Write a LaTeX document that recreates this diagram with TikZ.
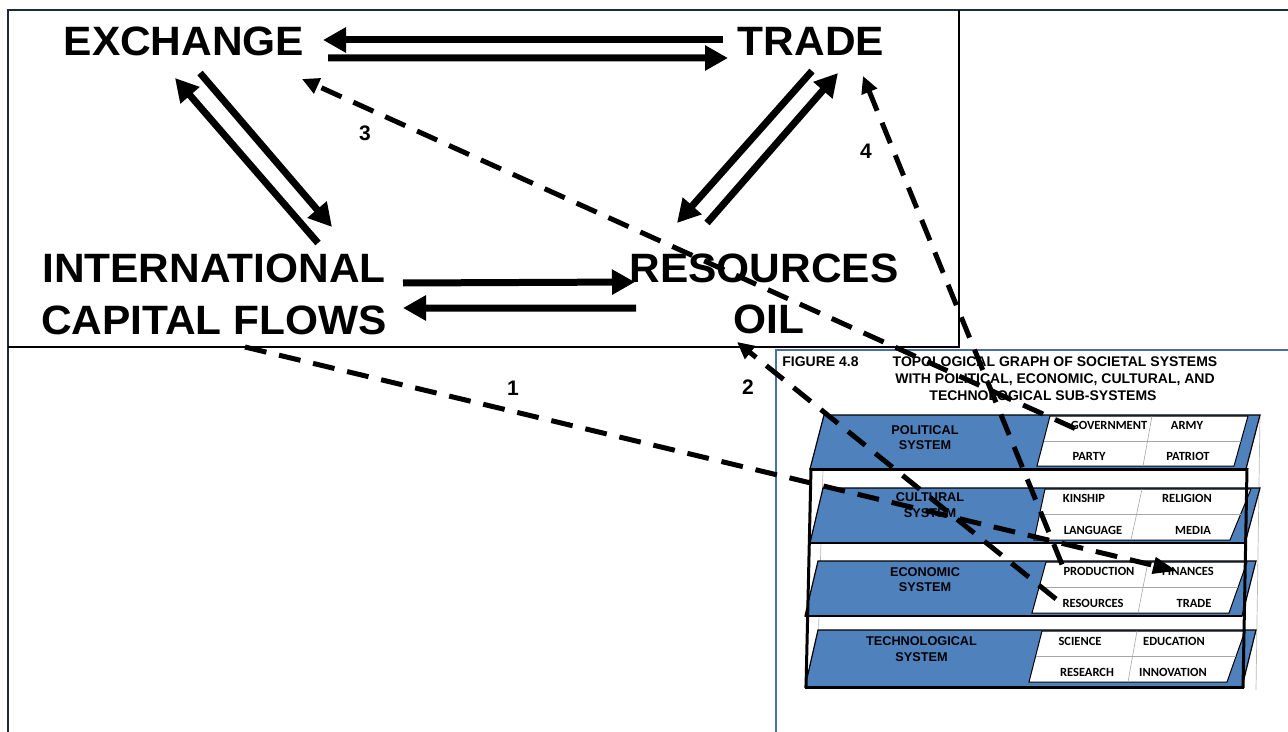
\documentclass[tikz,border=0pt]{standalone}
\usepackage{fontspec}
\setmainfont{Liberation Sans}
\newfontfamily\bigfont[FakeStretch=1.035]{Liberation Sans}
\newfontfamily\calibfont{Carlito}
\usetikzlibrary{arrows.meta,calc}
\definecolor{layerblue}{HTML}{4F81BD}
\definecolor{framedark}{HTML}{1F2B36}
\definecolor{figblue}{HTML}{4A6FA8}
\newcommand\drawcells[6]{%
  \filldraw[fill=white,draw=black,line width=1bp] #1 -- #2 -- #3 -- #4 -- cycle;
  \draw[gray!70,line width=0.6bp] ($#1!0.5!#4$) -- ($#2!0.5!#3$);
  \draw[gray!70,line width=0.6bp] #5 -- #6;
}
\begin{document}
\begin{tikzpicture}[x=1bp,y=-1bp,
  big/.style={inner sep=0pt,align=center,font=\bigfont\fontsize{41bp}{51.7bp}\selectfont\bfseries},
  num/.style={inner sep=0pt,font=\fontsize{21bp}{24bp}\selectfont\bfseries},
  laylabel/.style={inner sep=0pt,align=center,font=\fontsize{12.7bp}{15.5bp}\selectfont\bfseries},
  cell/.style={inner sep=0pt,font=\fontsize{12.5bp}{15bp}\selectfont\calibfont\bfseries},
  bigarrow/.style={line width=7bp,-{Triangle[length=23bp,width=24bp]}},
  dasharrow/.style={line width=5bp,dash pattern=on 22bp off 13bp,-{Triangle[length=17bp,width=16bp]}},
  layer/.style={fill=layerblue,draw=black,line width=1.2bp},
  boxline/.style={line width=3bp,black},
  backline/.style={gray!55,line width=0.7bp}
]
\useasboundingbox (0,0) rectangle (1288,732);
\fill[white] (0,0) rectangle (1288,732);

% frames
\draw[framedark,line width=1.2bp] (8,732) -- (8,10) -- (1288,10);
\draw[black,line width=1.5bp] (8,347) -- (959,347) -- (959,10);
\draw[figblue,line width=1.2bp] (776,732) -- (776,350) -- (1288,350);

% main nodes
\node[big] (exch) at (184,41.5) {EXCHANGE};
\node[big] (trade) at (811,41) {TRADE};
\node[big] (intl) at (214,294.5) {INTERNATIONAL\\CAPITAL FLOWS};
\node[big] (res) at (764,268) {RESOURCES};
\node[big] (oil) at (769,319) {OIL};

% figure title
\node[inner sep=0pt,font=\fontsize{14bp}{17bp}\selectfont\bfseries] (fig) at (820.5,362) {FIGURE 4.8};
\node[inner sep=0pt,align=center,font=\fontsize{14bp}{17bp}\selectfont\bfseries] (title) at (1055,379)
  {TOPOLOGICAL GRAPH OF SOCIETAL SYSTEMS\\WITH POLITICAL, ECONOMIC, CULTURAL, AND\\TECHNOLOGICAL SUB-SYSTEMS\hspace*{24bp}};

% back lines of the box
\draw[backline] (823,469) -- (817,687);
\draw[backline] (1260,415) -- (1256,690);

% layers
\draw[layer] (824,415) -- (1260,415) -- (1246,469) -- (810,469) -- cycle;
\drawcells{(1050,416)}{(1248,416)}{(1234,466)}{(1037,466)}{(1152,416)}{(1143,466)}
\draw[layer] (823,488) -- (1260,488) -- (1245,543) -- (810,543) -- cycle;
\drawcells{(1045,489)}{(1251,489)}{(1230,540)}{(1034,540)}{(1142,489)}{(1131,540)}
\draw[layer] (818,561) -- (1256,561) -- (1242,616) -- (805,616) -- cycle;
\drawcells{(1046,562)}{(1247,562)}{(1229,613)}{(1032,613)}{(1148,562)}{(1138,613)}
\draw[layer] (818,630) -- (1256,630) -- (1242,687) -- (805,687) -- cycle;
\drawcells{(1042,631)}{(1245,631)}{(1227,682)}{(1029,682)}{(1137,631)}{(1128,682)}
\draw[line width=2bp] (810,543) -- (1245,543);
\draw[line width=2bp] (805,616) -- (1242,616);

% front of the box
\draw[boxline] (811,469) -- (1247,469);
\draw[boxline] (811,468) -- (806,688);
\draw[boxline] (1247,468) -- (1243,688);
\draw[boxline] (805,687) -- (1244,687);

% layer labels
\node[laylabel] (pol) at (925,437.5) {POLITICAL\\SYSTEM};
\node[laylabel] (cul) at (930,505) {CULTURAL\\SYSTEM};
\node[laylabel] (eco) at (925,579.5) {ECONOMIC\\SYSTEM};
\node[laylabel] (tec) at (921.5,649) {TECHNOLOGICAL\\SYSTEM};

% cells
\node[cell] (gov) at (1109,425.5) {GOVERNMENT};
\node[cell] (army) at (1187,425.5) {ARMY};
\node[cell] (party) at (1089,456) {PARTY};
\node[cell] (patriot) at (1188,456) {PATRIOT};
\node[cell] (kin) at (1084,498.5) {KINSHIP};
\node[cell] (rel) at (1187,498.5) {RELIGION};
\node[cell] (lang) at (1093,530) {LANGUAGE};
\node[cell] (media) at (1193,530) {MEDIA};
\node[cell] (prod) at (1099,571.5) {PRODUCTION};
\node[cell] (fin) at (1188,571.5) {FINANCES};
\node[cell] (rescell) at (1093,603) {RESOURCES};
\node[cell] (tradecell) at (1194,603) {TRADE};
\node[cell] (sci) at (1080,641) {SCIENCE};
\node[cell] (edu) at (1174,641) {EDUCATION};
\node[cell] (rsch) at (1087,672) {RESEARCH};
\node[cell] (inno) at (1173,672) {INNOVATION};

% solid arrows
\draw[bigarrow] ([shift={(-88,-1)}]trade.center) -- ([shift={(139,-1.5)}]exch.center);
\draw[bigarrow] ([shift={(144,16.5)}]exch.center) -- ([shift={(-83,17)}]trade.center);
\draw[bigarrow] ([shift={(16,31.5)}]exch.center) -- ([shift={(118,-67.5)}]intl.center);
\draw[bigarrow] ([shift={(104,-51.5)}]intl.center) -- ([shift={(-9,36.5)}]exch.center);
\draw[bigarrow] ([shift={(1,30)}]trade.center) -- ([shift={(-87,-45)}]res.center);
\draw[bigarrow] ([shift={(-57,-45)}]res.center) -- ([shift={(27,32)}]trade.center);
\draw[bigarrow] ([shift={(189,-11.5)}]intl.center) -- ([shift={(-129,14)}]res.center);
\draw[bigarrow] ([shift={(-128,40)}]res.center) -- ([shift={(189,13.5)}]intl.center);

% dashed arrows
\draw[dasharrow,-{Triangle[length=24bp,width=16bp]}] ([shift={(31,52.5)}]intl.center) -- ([shift={(-11,-0.5)}]fin.center);
\draw[dasharrow] ([shift={(-37,-4)}]rescell.center) -- ([shift={(-32,23)}]oil.center);
\draw[dasharrow] ([shift={(-34,3)}]gov.center) -- ([shift={(118,37.5)}]exch.center);
\draw[dasharrow] ([shift={(-37,-7)}]prod.center) -- ([shift={(52,35)}]trade.center);

% labels
\node[num] (n1) at (513,388) {1};
\node[num] (n2) at (748,387) {2};
\node[num] (n3) at (365,133) {3};
\node[num] (n4) at (866,151) {4};
\end{tikzpicture}
\end{document}
